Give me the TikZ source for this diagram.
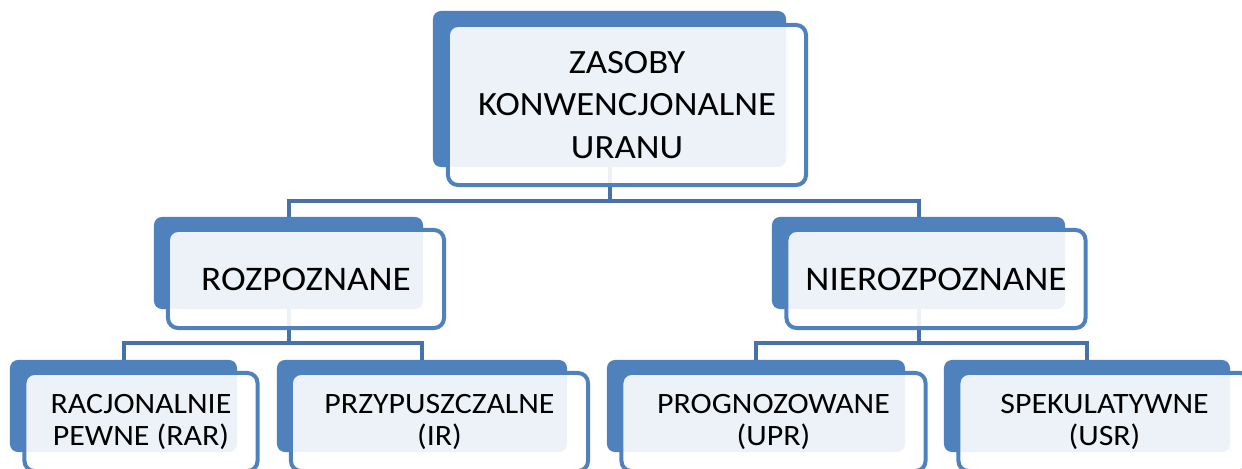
\documentclass[tikz,border=0pt]{standalone}
\usepackage{fontspec}
\setmainfont{Carlito}[FakeStretch=1.08]
\usepackage{tikz}
\usetikzlibrary{backgrounds}
\definecolor{boxblue}{HTML}{4F81BD}
\definecolor{linkblue}{HTML}{4672A8}
\tikzset{
  backbox/.style={fill=boxblue, rounded corners=0.2cm, inner sep=0pt},
  frontbox/.style={draw=boxblue, line width=0.1cm, fill=white, fill opacity=0.9, text opacity=1, rounded corners=0.25cm, align=center, inner sep=0pt},
  link/.style={draw=linkblue, line width=0.1cm},
  toptext/.style={font=\fontsize{24.2}{30}\selectfont},
  midtext/.style={font=\fontsize{24.5}{30}\selectfont},
  lowtext/.style={font=\fontsize{21}{23}\selectfont}
}

\begin{document}
\begin{tikzpicture}[x=0.025cm, y=-0.025cm]
\useasboundingbox (0,0) rectangle (1242,468);
\clip (0,0) rectangle (1242,468);
% poziom 0
\node[backbox, minimum width=8.825cm, minimum height=3.9cm] (zasobyB) at (609.5,89) {};
\node[frontbox, toptext, minimum width=8.95cm, minimum height=4cm] (zasoby) at (627,105) {ZASOBY\\KONWENCJONALNE\\URANU};
% poziom 1
\node[backbox, minimum width=6.725cm, minimum height=2.3cm] (rozpB) at (288.5,263) {};
\node[frontbox, midtext, minimum width=6.9cm, minimum height=2.45cm] (rozp) at (306,279) {ROZPOZNANE};
\node[backbox, minimum width=7.325cm, minimum height=2.3cm] (nierozpB) at (918.5,263) {};
\node[frontbox, midtext, minimum width=7.475cm, minimum height=2.45cm] (nierozp) at (936,279) {NIEROZPOZNANE};
% poziom 2
\node[backbox, minimum width=5.675cm, minimum height=2.3cm] (rarB) at (123.5,406) {};
\node[frontbox, lowtext, minimum width=5.825cm, minimum height=2.45cm] (rar) at (141,422) {RACJONALNIE\\PEWNE (RAR)};
\node[backbox, minimum width=7.25cm, minimum height=2.3cm] (irB) at (422,406) {};
\node[frontbox, lowtext, minimum width=7.425cm, minimum height=2.45cm] (ir) at (439.5,422) {PRZYPUSZCZALNE\\(IR)};
\node[backbox, minimum width=7.45cm, minimum height=2.3cm] (uprB) at (756,406) {};
\node[frontbox, lowtext, minimum width=7.6cm, minimum height=2.45cm] (upr) at (773.5,422) {PROGNOZOWANE\\(UPR)};
\node[backbox, minimum width=7.15cm, minimum height=2.3cm] (usrB) at (1087,406) {};
\node[frontbox, lowtext, minimum width=7.3cm, minimum height=2.45cm] (usr) at (1104.5,422) {SPEKULATYWNE\\(USR)};
% polaczenia
\begin{scope}[on background layer]
\draw[link] (zasobyB.south) -- (zasobyB.south |- 0,201);
\draw[link] (rozpB.north) -- ++(0,-16) -| (nierozpB.north);
\draw[link] (rozpB.south) -- (rozpB.south |- 0,343);
\draw[link] (rarB.north) -- ++(0,-17) -| (irB.north);
\draw[link] (nierozpB.south) -- (nierozpB.south |- 0,343);
\draw[link] (uprB.north) -- ++(0,-17) -| (usrB.north);
\end{scope}
\end{tikzpicture}
\end{document}
